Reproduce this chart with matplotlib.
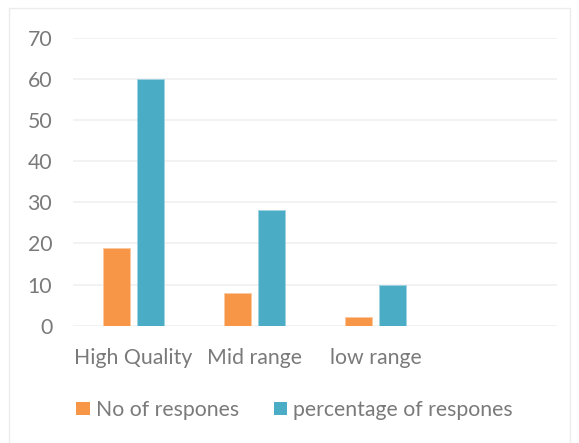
import matplotlib
matplotlib.use("Agg")
import matplotlib.pyplot as plt
from matplotlib.patches import Rectangle, Patch
import numpy as np

categories = ["High Quality", "Mid range", "low range"]
no_of_responses = [19, 8, 2]
pct_of_responses = [60, 28.2, 10]
series_names = ["No of respones", "percentage of respones"]
y_ticks = [0, 10, 20, 30, 40, 50, 60, 70]

ORANGE = "#F79646"
BLUE = "#4BACC6"
TEXT = "#7a7a7a"
FONT = "Lato"
FS = 15.3

fig = plt.figure(figsize=(5.79, 4.43), dpi=100)
fig.patch.set_facecolor("white")

# chart area outline
fig.add_artist(Rectangle((9 / 579, -0.05), (570 - 9) / 579, 1.05 - 8 / 443,
                         transform=fig.transFigure, fill=False,
                         edgecolor="#ececec", linewidth=1.0))

ax = fig.add_axes([73.1 / 579, 1 - 325.7 / 443, (556.9 - 73.1) / 579,
                   (325.7 - 37.8) / 443])

n_slots = 4  # category axis leaves one empty slot on the right
x = np.arange(len(categories))
w = 0.223
off = 0.1405
ax.bar(x - off, no_of_responses, width=w, color=ORANGE,
       edgecolor="#fbc9a0", linewidth=0.6, zorder=3)
ax.bar(x + off, pct_of_responses, width=w, color=BLUE,
       edgecolor="#9fd3e2", linewidth=0.6, zorder=3)

ax.set_xlim(-0.5, n_slots - 0.5)
ax.set_ylim(0, 70)
ax.set_yticks(y_ticks)
ax.set_xticks(x)
ax.set_xticklabels(categories)
ax.yaxis.grid(True, color="#f0f0f0", linewidth=1.2, zorder=0)
ax.set_axisbelow(True)
for s in ax.spines.values():
    s.set_visible(False)
ax.tick_params(axis="both", length=0, colors=TEXT, labelsize=FS)
ax.tick_params(axis="y", pad=15)
ax.tick_params(axis="x", pad=16)
for lbl in ax.get_xticklabels() + ax.get_yticklabels():
    lbl.set_family(FONT)

handles = [Patch(facecolor=ORANGE), Patch(facecolor=BLUE)]
leg = fig.legend(handles, series_names, loc="center",
                 bbox_to_anchor=(294.5 / 579, 1 - 410 / 443), ncol=2,
                 frameon=False, handlelength=0.62, handleheight=0.62,
                 handletextpad=0.28, columnspacing=1.65,
                 prop={"family": FONT, "size": FS})
for t in leg.get_texts():
    t.set_color(TEXT)

fig.savefig("out.png", dpi=100, facecolor="white")
